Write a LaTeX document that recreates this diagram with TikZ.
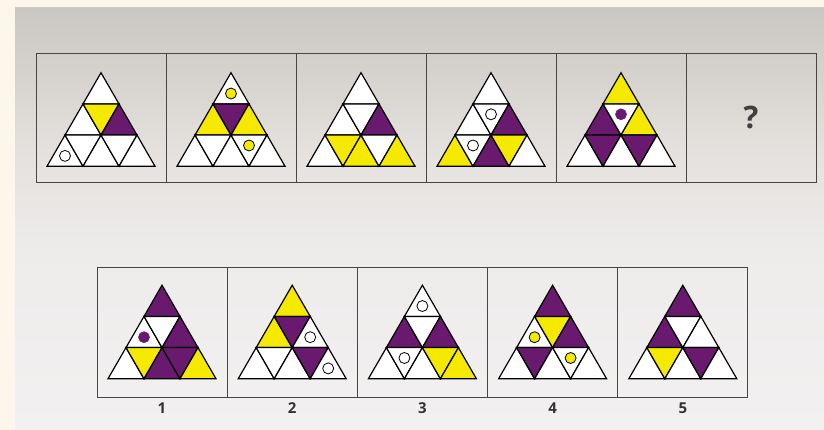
\documentclass[tikz,border=0pt]{standalone}
\usepackage{fontspec}
\setsansfont{Open Sans}
\usepackage{tikz}
\usetikzlibrary{positioning}
\definecolor{pur}{RGB}{106,26,110}
\definecolor{yel}{RGB}{245,233,0}
\definecolor{cream}{RGB}{253,246,234}
\definecolor{frame}{RGB}{70,70,70}
\definecolor{bgA}{RGB}{202,198,193}
\definecolor{bgB}{RGB}{228,225,222}
\definecolor{bgC}{RGB}{238,236,235}
\definecolor{bgD}{RGB}{242,240,240}
\pgfdeclareverticalshading{paper}{100bp}{color(0bp)=(bgD); color(25bp)=(bgD); color(46bp)=(bgC);
    color(58bp)=(bgB); color(75bp)=(bgA); color(100bp)=(bgA)}
\tikzstyle{panel} = [draw=frame, line width=0.9pt, minimum width=130pt, minimum height=129pt, inner sep=0pt]
\tikzstyle{cell}  = [draw=black, line width=1.2pt]
\tikzstyle{ring}  = [draw=black, line width=0.8pt, fill=white]
\tikzstyle{dotY}  = [draw=black, line width=0.8pt, fill=yel]
\tikzstyle{dotP}  = [draw=pur, line width=0.6pt, fill=pur]
\tikzstyle{digit} = [font=\sffamily\bfseries\fontsize{15}{15}\selectfont, text=black!80, inner sep=0pt]
\tikzstyle{qmark} = [font=\sffamily\bfseries\fontsize{31}{31}\selectfont, text=black!75]
\def\triu{36}
\def\trih{31.18}
\tikzset{
  pics/tri/.style n args={9}{code={
    \coordinate (-A)  at (0,{-1.5*\trih});
    \coordinate (-B1) at ({-0.5*\triu},{-0.5*\trih});
    \coordinate (-B2) at ({0.5*\triu},{-0.5*\trih});
    \coordinate (-C1) at ({-\triu},{0.5*\trih});
    \coordinate (-C2) at (0,{0.5*\trih});
    \coordinate (-C3) at ({\triu},{0.5*\trih});
    \coordinate (-D1) at ({-1.5*\triu},{1.5*\trih});
    \coordinate (-D2) at ({-0.5*\triu},{1.5*\trih});
    \coordinate (-D3) at ({0.5*\triu},{1.5*\trih});
    \coordinate (-D4) at ({1.5*\triu},{1.5*\trih});
    \filldraw[cell, fill=#1] (-A) -- (-B1) -- (-B2) -- cycle;
    \filldraw[cell, fill=#2] (-B1) -- (-C1) -- (-C2) -- cycle;
    \filldraw[cell, fill=#3] (-B1) -- (-B2) -- (-C2) -- cycle;
    \filldraw[cell, fill=#4] (-B2) -- (-C2) -- (-C3) -- cycle;
    \filldraw[cell, fill=#5] (-C1) -- (-D1) -- (-D2) -- cycle;
    \filldraw[cell, fill=#6] (-C1) -- (-C2) -- (-D2) -- cycle;
    \filldraw[cell, fill=#7] (-C2) -- (-D2) -- (-D3) -- cycle;
    \filldraw[cell, fill=#8] (-C2) -- (-C3) -- (-D3) -- cycle;
    \filldraw[cell, fill=#9] (-C3) -- (-D3) -- (-D4) -- cycle;
    % cell centres, for the circles
    \coordinate (-c1) at (0,{-0.8333*\trih});
    \coordinate (-c2) at ({-0.5*\triu},{0.1667*\trih});
    \coordinate (-c3) at (0,{-0.1667*\trih});
    \coordinate (-c4) at ({0.5*\triu},{0.1667*\trih});
    \coordinate (-c5) at ({-\triu},{1.1667*\trih});
    \coordinate (-c6) at ({-0.5*\triu},{0.8333*\trih});
    \coordinate (-c7) at (0,{1.1667*\trih});
    \coordinate (-c8) at ({0.5*\triu},{0.8333*\trih});
    \coordinate (-c9) at ({\triu},{1.1667*\trih});
  }}
}

\begin{document}
\begin{tikzpicture}[x=1pt, y=-1pt]
    \useasboundingbox (0,0) rectangle (824,430);
    \fill[cream] (0,0) rectangle (824,430);
    \shade[shading=paper] (15,8) rectangle (824,430);

    % question row
    \foreach \i in {1,...,6}
        \node (q\i) at ({101+130*(\i-1)},117.5) [panel] {};
    % answer row
    \foreach \i in {1,...,5}
        \node (a\i) at ({162+130.2*(\i-1)},332) [panel, minimum height=130pt] {};

    \pic (t1) at ([yshift=-2pt]q1) {tri={white}{white}{yel}{pur}{white}{white}{white}{white}{white}};
    \pic (t2) at ([yshift=-2pt]q2) {tri={white}{yel}{pur}{yel}{white}{white}{white}{white}{white}};
    \pic (t3) at ([yshift=-2pt]q3) {tri={white}{white}{white}{pur}{white}{yel}{yel}{white}{yel}};
    \pic (t4) at ([yshift=-2pt]q4) {tri={white}{white}{white}{pur}{yel}{white}{pur}{yel}{white}};
    \pic (t5) at ([yshift=-2pt]q5) {tri={yel}{pur}{white}{yel}{white}{pur}{white}{pur}{white}};
    \node (qm) at (q6) [qmark] {?};

    \pic (s1) at (a1) {tri={pur}{white}{white}{pur}{white}{yel}{pur}{pur}{yel}};
    \pic (s2) at (a2) {tri={yel}{yel}{pur}{white}{white}{white}{white}{pur}{white}};
    \pic (s3) at (a3) {tri={white}{pur}{white}{pur}{white}{white}{white}{yel}{yel}};
    \pic (s4) at (a4) {tri={pur}{white}{yel}{pur}{white}{pur}{white}{white}{white}};
    \pic (s5) at (a5) {tri={pur}{pur}{white}{white}{white}{yel}{white}{pur}{white}};

    % circles
    \draw[ring] (t1-c5) circle[radius=5.5pt];
    \draw[dotY] (t2-c1) circle[radius=5.5pt];
    \draw[dotY] (t2-c8) circle[radius=5.5pt];
    \draw[ring] (t4-c3) circle[radius=5.5pt];
    \draw[ring] (t4-c6) circle[radius=5.5pt];
    \draw[dotP] (t5-c3) circle[radius=5.5pt];
    \draw[dotP] (s1-c2) circle[radius=5.5pt];
    \draw[ring] (s2-c4) circle[radius=5.5pt];
    \draw[ring] (s2-c9) circle[radius=5.5pt];
    \draw[ring] (s3-c1) circle[radius=5.5pt];
    \draw[ring] (s3-c6) circle[radius=5.5pt];
    \draw[dotY] (s4-c2) circle[radius=5.5pt];
    \draw[dotY] (s4-c8) circle[radius=5.5pt];

    \foreach \i in {1,...,5}
        \node (n\i) [digit, below=5pt of a\i] {\i};
\end{tikzpicture}
\end{document}
